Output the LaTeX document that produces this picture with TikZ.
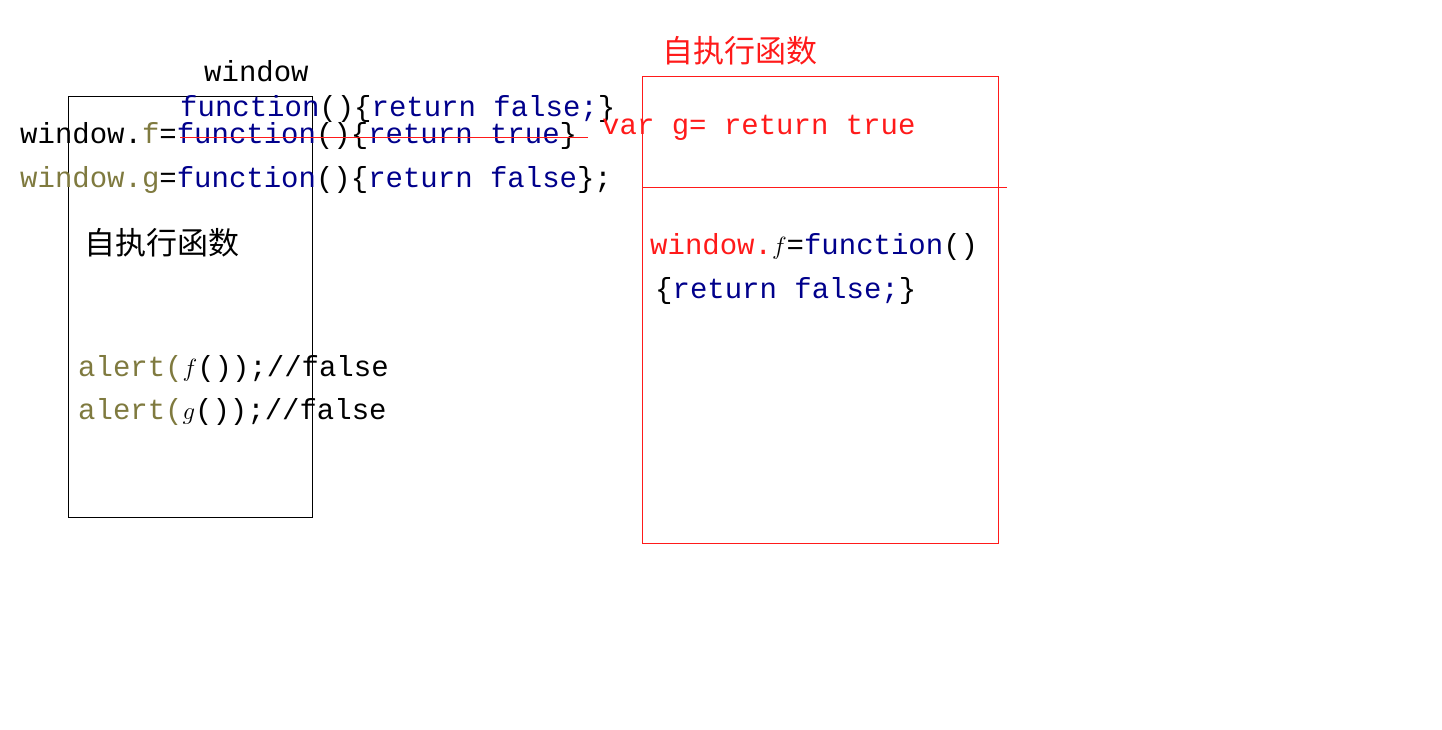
\documentclass[tikz,border=0pt]{standalone}
\usepackage{fontspec}
\usepackage{xcolor}
\usepackage{tikz}
\usetikzlibrary{positioning}
\setmainfont{Liberation Mono}
\newfontfamily\cjkfont{Noto Sans CJK SC}
\definecolor{codeBlue}{HTML}{00008B}
\definecolor{codeOlive}{HTML}{7F7A3F}
\definecolor{codeRed}{HTML}{FF1A1A}
\newcommand{\kw}[1]{\textcolor{codeBlue}{#1}}
\newcommand{\olv}[1]{\textcolor{codeOlive}{#1}}
\newcommand{\itl}[1]{\textcolor{black}{$#1$}}

\begin{document}
\begin{tikzpicture}[x=1pt,y=-1pt]
\tikzset{CodeLine/.style={
  anchor=mid west,
  inner sep=0pt,
  font=\fontsize{29}{33}\selectfont
}}
\tikzset{CjkTitle/.style={
  anchor=mid west,
  inner sep=0pt,
  font=\fontsize{31}{35}\selectfont\cjkfont
}}
\tikzset{FrameBox/.style={
  draw,
  line width=1pt
}}

\useasboundingbox (0,0) rectangle (1442,730);

% frames
\draw[FrameBox] (68,97) rectangle (312,517);
\draw[FrameBox, draw=codeRed] (642,77) rectangle (998,543);
\coordinate (sepL) at (643,188);
\coordinate (sepR) at (1007,188);
\draw[codeRed, line width=1pt] (sepL) -- (sepR);

% global scope
\node[CodeLine] (winLabel) at (204,79) {window};
\node[CodeLine] (newF) at (180,114) {\kw{function}()\{\kw{return false;}\}};
\node[CodeLine] (oldF) at (20,141) {window.\olv{f}=\kw{function}()\{\kw{return true}\}};
\node[CodeLine] (defG) at (20,185) {\olv{window.g}=\kw{function}()\{\kw{return false}\};};
\coordinate (strikeA) at (180,138);
\coordinate (strikeB) at (588,138);
\draw[codeRed, line width=1pt] (strikeA) -- (strikeB);
\node[CodeLine, text=codeRed] (varG) at (602,132) {var g= return true};

% self-executing function
\node[CjkTitle] (selfExec) at (84,252) {自执行函数};
\node[CodeLine] (callF) at (78,374) {\olv{alert(}\itl{f}());//false};
\node[CodeLine] (callG) at (78,417) {\olv{alert(}\itl{g}());//false};

% red frame
\node[CjkTitle, text=codeRed] (selfExecR) at (662,60) {自执行函数};
\node[CodeLine] (redF) at (650,252) {\textcolor{codeRed}{window.}\itl{f}=\kw{function}()};
\node[CodeLine] (redBody) at (655,296) {\{\kw{return false;}\}};
\end{tikzpicture}
\end{document}
